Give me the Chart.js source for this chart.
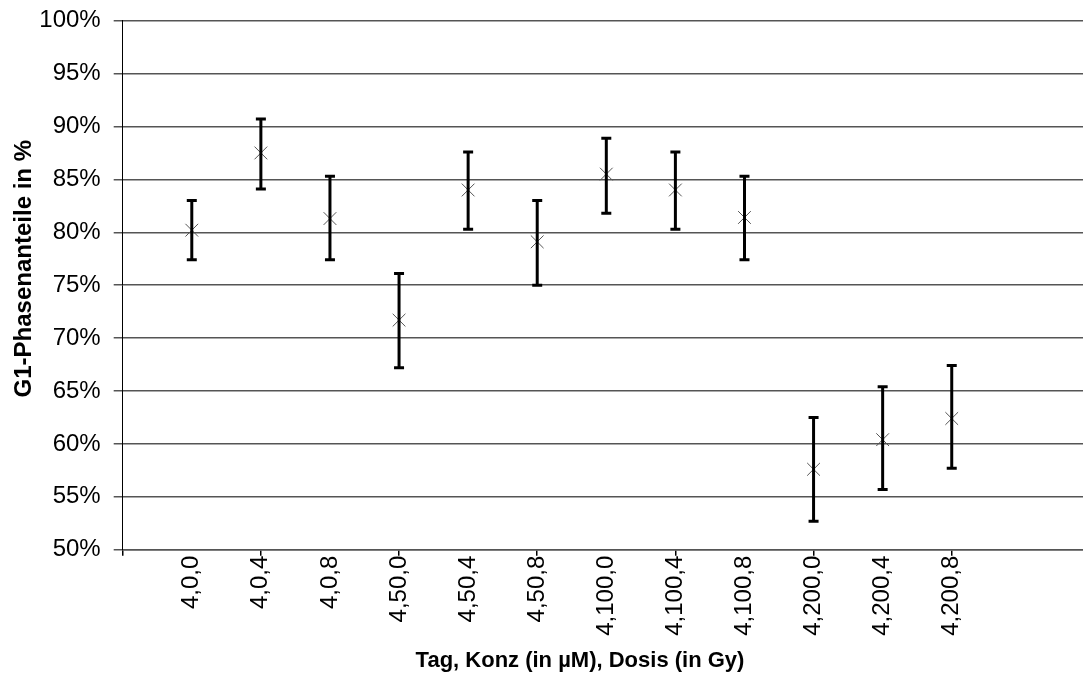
<!DOCTYPE html>
<html>
<head>
<meta charset="utf-8">
<script src="https://cdn.jsdelivr.net/npm/chart.js@4"></script>
<style>
  body { margin: 0; background: #fff; }
  #wrap { width: 1083px; height: 677px; }
</style>
</head>
<body>
<div id="wrap"><canvas id="chart" width="1083" height="677"></canvas></div>
<script>
// categories: Tag, Konz, Dosis
const labels = ['4,0,0', '4,0,4', '4,0,8', '4,50,0', '4,50,4', '4,50,8',
                '4,100,0', '4,100,4', '4,100,8', '4,200,0', '4,200,4', '4,200,8'];
// G1 share in %
const means = [80.2, 87.5, 81.3, 71.7, 84.0, 79.1, 85.5, 84.0, 81.4, 57.6, 60.4, 62.4];
// error bar ends
const upper = [83.0, 90.7, 85.3, 76.1, 87.6, 83.0, 88.9, 87.6, 85.3, 62.5, 65.4, 67.4];
const lower = [77.4, 84.1, 77.4, 67.2, 80.3, 75.0, 81.8, 80.3, 77.4, 52.7, 55.7, 57.7];

const xTitle = 'Tag, Konz (in µM), Dosis (in Gy)';
const yTitle = 'G1-Phasenanteile in %';

const points = means.map((v, i) => ({ x: i, y: v }));

// draws the vertical bars with caps
const errorBars = {
    id: 'errorBars',
    afterDatasetsDraw(chart) {
        const { ctx, scales: { x, y } } = chart;
        ctx.save();
        ctx.strokeStyle = '#000';
        ctx.lineWidth = 3;
        ctx.lineCap = 'butt';
        means.forEach((m, i) => {
            const px = x.getPixelForValue(i);
            const top = y.getPixelForValue(upper[i]);
            const bot = y.getPixelForValue(lower[i]);
            ctx.beginPath();
            ctx.moveTo(px, top);
            ctx.lineTo(px, bot);
            ctx.stroke();
            ctx.beginPath();
            ctx.moveTo(px - 5, top);
            ctx.lineTo(px + 5, top);
            ctx.moveTo(px - 5, bot);
            ctx.lineTo(px + 5, bot);
            ctx.stroke();
        });
        ctx.restore();
    }
};

// axis titles, placed like the excel original (not centred on the plot)
const axisTitles = {
    id: 'axisTitles',
    afterDraw(chart) {
        const { ctx, chartArea } = chart;
        ctx.save();
        ctx.fillStyle = '#000';
        ctx.textAlign = 'center';
        ctx.textBaseline = 'middle';
        ctx.font = 'bold 22px "Liberation Sans", Arial, sans-serif';
        ctx.fillText(xTitle, 580, 661);
        ctx.translate(24, chartArea.top + 248);
        ctx.rotate(-Math.PI / 2);
        ctx.font = 'bold 24px "Liberation Sans", Arial, sans-serif';
        ctx.fillText(yTitle, 0, 0);
        ctx.restore();
    }
};

const tickFont = { family: 'Liberation Sans, Arial, sans-serif', size: 24 };

new Chart(document.getElementById('chart'), {
    type: 'scatter',
    data: {
        datasets: [{
            label: 'G1',
            data: points,
            pointStyle: 'crossRot',
            pointRadius: 9,
            pointHoverRadius: 9,
            borderColor: '#555',
            backgroundColor: '#555',
            borderWidth: 1,
            clip: false
        }]
    },
    options: {
        responsive: false,
        animation: false,
        layout: { autoPadding: false, padding: { top: 20.7, right: 0, left: 0, bottom: 0 } },
        plugins: {
            legend: { display: false },
            tooltip: { enabled: false }
        },
        scales: {
            x: {
                type: 'linear',
                min: -1,
                max: 12.9,
                afterBuildTicks: (scale) => {
                    const t = [];
                    for (let v = -1; v <= 12; v++) t.push({ value: v });
                    scale.ticks = t;
                },
                afterFit: (scale) => {
                    scale.height = 127.3;
                    scale.paddingLeft = 0;
                    scale.paddingRight = 0;
                },
                ticks: {
                    autoSkip: false,
                    minRotation: 90,
                    maxRotation: 90,
                    padding: 0,
                    color: '#000',
                    font: tickFont,
                    callback: (v) => labels[v] || ''
                },
                grid: {
                    drawOnChartArea: false,
                    drawTicks: true,
                    tickLength: 6,
                    lineWidth: 1.5,
                    color: (c) => (c.tick && Math.abs(c.tick.value % 2) === 1) ? '#000' : 'rgba(0,0,0,0)'
                },
                border: { display: true, color: '#555', width: 1.5 }
            },
            y: {
                min: 50,
                max: 100,
                afterFit: (scale) => {
                    scale.width = 122.7;
                    scale.paddingTop = 0;
                    scale.paddingBottom = 0;
                },
                ticks: {
                    stepSize: 5,
                    padding: 13,
                    color: '#000',
                    font: tickFont,
                    callback: (v) => v + '%'
                },
                grid: {
                    color: '#555',
                    lineWidth: 1.5,
                    drawTicks: true,
                    tickLength: 9
                },
                border: { display: true, color: '#000', width: 1 }
            }
        }
    },
    plugins: [errorBars, axisTitles]
});
</script>
</body>
</html>
